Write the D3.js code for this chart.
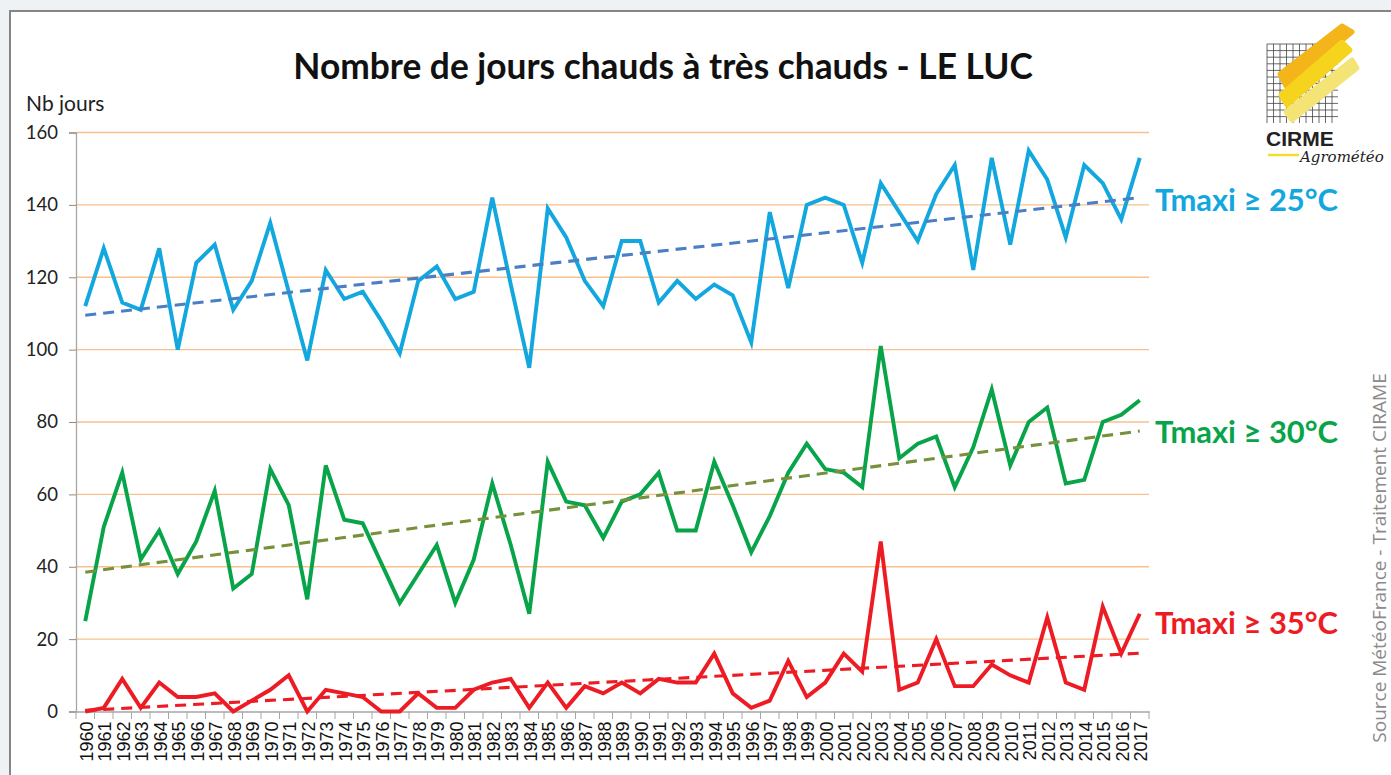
<!DOCTYPE html>
<html><head><meta charset="utf-8">
<script src="https://cdn.jsdelivr.net/npm/d3@7"></script>
<style>
html,body{margin:0;padding:0;background:#eef2f5;}
svg{display:block;}
</style></head>
<body>
<svg id="c" width="1391" height="775"></svg>
<script>
const years = d3.range(1960, 2018).map(String);
const tmax25 = [112,128,113,111,128,100,124,129,111,119,135,116,97,122,114,116,108,99,119,123,
  114,116,142,118,95,139,131,119,112,130,130,113,119,114,118,115,102,138,117,140,
  142,140,124,146,138,130,143,151,122,153,129,155,147,131,151,146,136,153];
const tmax30 = [25,51,66,42,50,38,47,61,34,38,67,57,31,68,53,52,41,30,38,46,
  30,42,63,46,27,69,58,57,48,58,60,66,50,50,69,57,44,54,66,74,
  67,66,62,101,70,74,76,62,73,89,68,80,84,63,64,80,82,86];
const tmax35 = [0,1,9,1,8,4,4,5,0,3,6,10,0,6,5,4,0,0,5,1,
  1,6,8,9,1,8,1,7,5,8,5,9,8,8,16,5,1,3,14,4,
  8,16,11,47,6,8,20,7,7,13,10,8,26,8,6,29,16,27];
const trend25 = [109.5, 142];
const trend30 = [38.5, 77.5];
const trend35 = [0.3, 16.1];
const yTicks = [0,20,40,60,80,100,120,140,160];
const seriesLabels = ["Tmaxi ≥ 25°C","Tmaxi ≥ 30°C","Tmaxi ≥ 35°C"];

const svg = d3.select("#c");
// panel
svg.append("rect").attr("x",10).attr("y",11).attr("width",1400).attr("height",800)
  .attr("fill","#fff").attr("stroke","#858585").attr("stroke-width",2);

const x = d3.scaleBand().domain(years).range([76,1149]).paddingInner(0).paddingOuter(0);
const y = d3.scaleLinear().domain([0,160]).range([711.5,132.5]);
const cx = d => x(d) + x.bandwidth()/2;

// gridlines
svg.append("g").selectAll("line").data(yTicks.filter(t=>t>0)).join("line")
  .attr("x1",76).attr("x2",1149).attr("y1",d=>y(d)).attr("y2",d=>y(d))
  .attr("stroke","#f9c08c").attr("stroke-width",1.3);

// y axis
const yAxis = svg.append("g").attr("transform","translate(76,0)")
  .call(d3.axisLeft(y).tickValues(yTicks).tickSize(7).tickPadding(11));
yAxis.select(".domain").attr("stroke","#a6a6a6").attr("stroke-width",1.3);
yAxis.selectAll(".tick line").attr("stroke","#8a8a8a");
yAxis.selectAll("text").attr("font-family","Lato, 'Open Sans', sans-serif").attr("font-size",18.5).attr("fill","#222");

// x axis
const xAxis = svg.append("g").attr("transform","translate(0,711.5)")
  .call(d3.axisBottom(x).tickSize(0).tickPadding(0));
xAxis.select(".domain").attr("stroke","#a6a6a6").attr("stroke-width",1.3);
xAxis.selectAll("text")
  .attr("font-family","'Liberation Sans', Arial, sans-serif").attr("font-size",18).attr("fill","#111")
  .attr("text-anchor","end").attr("dy","0.36em")
  .attr("transform","translate(1,10) rotate(-90)").attr("x",0).attr("y",0);
svg.append("g").selectAll("line").data(years.concat(["_end"])).join("line")
  .attr("x1",(d,i)=> i<years.length ? x(d) : 1149).attr("x2",(d,i)=> i<years.length ? x(d) : 1149)
  .attr("y1",711.5).attr("y2",719).attr("stroke","#a6a6a6").attr("stroke-width",1);

// series
const line = d3.line().x((d,i)=>cx(years[i])).y(d=>y(d));
const series = [
  {v:tmax25, c:"#12a7df", t:trend25, tc:"#4a7fc6"},
  {v:tmax30, c:"#07a44a", t:trend30, tc:"#76903b"},
  {v:tmax35, c:"#ed1c24", t:trend35, tc:"#ed1c24"}
];
series.forEach(s=>{
  svg.append("path").datum(s.v).attr("d",line).attr("fill","none")
    .attr("stroke",s.c).attr("stroke-width",3.9).attr("stroke-linejoin","miter");
});
series.forEach(s=>{
  svg.append("line").attr("x1",cx(years[0])).attr("x2",cx(years[years.length-1]))
    .attr("y1",y(s.t[0])).attr("y2",y(s.t[1]))
    .attr("stroke",s.tc).attr("stroke-width",3.1).attr("stroke-dasharray","11,7");
});

// series labels
const labY = [200, 432, 623];
seriesLabels.forEach((l,i)=>{
  svg.append("text").attr("x",1155).attr("y",labY[i]).attr("dy","0.35em")
    .attr("font-family","Lato, 'Open Sans', sans-serif").attr("font-weight","bold")
    .attr("font-size",31).attr("textLength",183).attr("lengthAdjust","spacingAndGlyphs")
    .attr("fill",series[i].c).text(l);
});

// title
svg.append("text").attr("x",663).attr("y",67).attr("dy","0.35em").attr("text-anchor","middle")
  .attr("font-family","Lato, 'Open Sans', sans-serif").attr("font-weight","bold")
  .attr("font-size",35.3).attr("fill","#111").text("Nombre de jours chauds à très chauds - LE LUC");
svg.append("text").attr("x",26).attr("y",104).attr("dy","0.35em")
  .attr("font-family","Lato, 'Open Sans', sans-serif").attr("font-size",21).attr("fill","#222").text("Nb jours");

// source
svg.append("text").attr("transform","translate(1386,558) rotate(-90)").attr("text-anchor","middle")
  .attr("font-family","'Open Sans', Lato, sans-serif").attr("font-size",19).attr("fill","#8a8a8a")
  .text("Source MétéoFrance - Traitement CIRAME");

// logo
const logo = svg.append("g");
const gx0=1267, gx1=1338, gy0=44, gy1=123;
for(let gx=gx0; gx<=gx1; gx+=6.5) logo.append("line").attr("x1",gx).attr("x2",gx).attr("y1",gy0).attr("y2",gy1).attr("stroke","#444").attr("stroke-width",0.8);
for(let gy=gy0; gy<=gy1; gy+=6.6) logo.append("line").attr("x1",gx0).attr("x2",gx1).attr("y1",gy).attr("y2",gy).attr("stroke","#444").attr("stroke-width",0.8);
const sw = [
  {c:"#f3b51a", p:"M1280,74 L1342,26 L1352,32 L1286,86 Z"},
  {c:"#f6d31c", p:"M1281,95 L1342,42 L1350,50 L1287,105 Z"},
  {c:"#f4e476", p:"M1286,112 L1352,60 L1357,68 L1292,120 Z"}
];
sw.forEach(s=>logo.append("path").attr("d",s.p).attr("fill",s.c).attr("stroke",s.c).attr("stroke-width",5).attr("stroke-linejoin","round"));
logo.append("text").attr("x",1266).attr("y",146).attr("font-family","'Liberation Sans', Arial, sans-serif")
  .attr("font-weight","bold").attr("font-size",21).attr("fill","#222").text("CIRME");
logo.append("line").attr("x1",1268).attr("x2",1299).attr("y1",155).attr("y2",155).attr("stroke","#f2de2a").attr("stroke-width",2.5);
logo.append("text").attr("x",1300).attr("y",162).attr("font-family","'DejaVu Serif', serif")
  .attr("font-style","italic").attr("font-size",15).attr("fill","#222").text("Agrométéo");
</script>
</body></html>
